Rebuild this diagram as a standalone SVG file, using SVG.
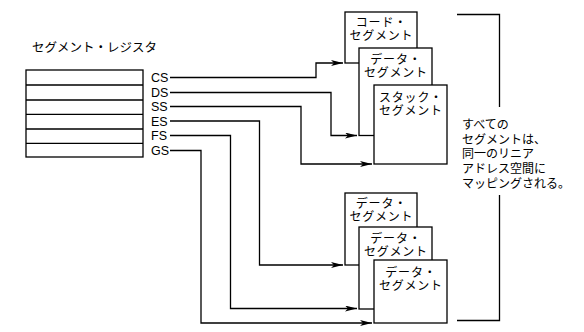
<svg xmlns="http://www.w3.org/2000/svg" width="584" height="332" viewBox="0 0 584 332">
<style>
.ln{fill:none;stroke:#000;stroke-width:1.3}
.bx{fill:#fff;stroke:#000;stroke-width:1.3}
.jp{font-family:"Noto Sans CJK JP","Noto Sans CJK SC",sans-serif;fill:#000}
.lb{font-family:"Liberation Sans",Arial,sans-serif;font-size:12.5px;fill:#000}
.bl{font-size:12px;letter-spacing:0.8px;text-anchor:middle}
</style>
<defs>
<marker id="ah" markerWidth="13" markerHeight="7" refX="12" refY="3" orient="auto" markerUnits="userSpaceOnUse">
<path d="M0,0 L12,3 L0,6 L3,3 z" fill="#000"/>
</marker>
</defs>
<rect width="584" height="332" fill="#fff"/>
<g id="title"><text class="jp" x="32" y="52" font-size="12.5">セグメント・レジスタ</text></g>
<g id="registers">
<rect class="bx" x="26" y="70" width="117" height="87"/>
<path class="ln" d="M26,85 H143 M26,100 H143 M26,114.3 H143 M26,129 H143 M26,143.3 H143"/>
<text class="lb" x="151" y="82">CS</text>
<text class="lb" x="151" y="97">DS</text>
<text class="lb" x="151" y="111">SS</text>
<text class="lb" x="151" y="125.5">ES</text>
<text class="lb" x="151" y="140">FS</text>
<text class="lb" x="151" y="155">GS</text>
</g>
<g id="connectors">
<path class="ln" marker-end="url(#ah)" d="M170,77.5 H316 V63 H343"/>
<path class="ln" marker-end="url(#ah)" d="M170,92.5 H331 V135.5 H357"/>
<path class="ln" marker-end="url(#ah)" d="M170,106.5 H301 V164 H372"/>
<path class="ln" marker-end="url(#ah)" d="M170,121 H259.5 V265 H343"/>
<path class="ln" marker-end="url(#ah)" d="M170,135.5 H230.5 V308.5 H357"/>
<path class="ln" marker-end="url(#ah)" d="M170,150.5 H201 V323 H372"/>
<path class="ln" d="M457,14.5 H499.5 V107 M499.5,195 V320.5 H457"/>
</g>
<g id="code-seg">
<rect class="bx" x="345" y="12" width="72" height="51"/>
<text class="jp bl"><tspan x="381.4" y="26.5">コード・</tspan><tspan x="381.4" y="39.5">セグメント</tspan></text>
</g>
<g id="data-seg">
<rect class="bx" x="359" y="48" width="73" height="87.5"/>
<text class="jp bl"><tspan x="395.9" y="64">データ・</tspan><tspan x="395.9" y="77">セグメント</tspan></text>
</g>
<g id="stack-seg">
<rect class="bx" x="374" y="85" width="73" height="79"/>
<text class="jp bl"><tspan x="410.9" y="101.5">スタック・</tspan><tspan x="410.9" y="114.5">セグメント</tspan></text>
</g>
<g id="data-seg-2">
<rect class="bx" x="345" y="193" width="72" height="72"/>
<text class="jp bl"><tspan x="381.4" y="207.5">データ・</tspan><tspan x="381.4" y="220.5">セグメント</tspan></text>
</g>
<g id="data-seg-3">
<rect class="bx" x="359" y="227" width="73" height="82"/>
<text class="jp bl"><tspan x="395.9" y="242.5">データ・</tspan><tspan x="395.9" y="255.5">セグメント</tspan></text>
</g>
<g id="data-seg-4">
<rect class="bx" x="374" y="260" width="73" height="63"/>
<text class="jp bl"><tspan x="410.9" y="277">データ・</tspan><tspan x="410.9" y="290">セグメント</tspan></text>
</g>
<g id="note">
<text class="jp" font-size="12"><tspan x="462" y="128.5">すべての</tspan><tspan x="462" y="143.5">セグメントは、</tspan><tspan x="462" y="158">同一のリニア</tspan><tspan x="462" y="173">アドレス空間に</tspan><tspan x="462" y="188">マッピングされる。</tspan></text>
</g>
</svg>
